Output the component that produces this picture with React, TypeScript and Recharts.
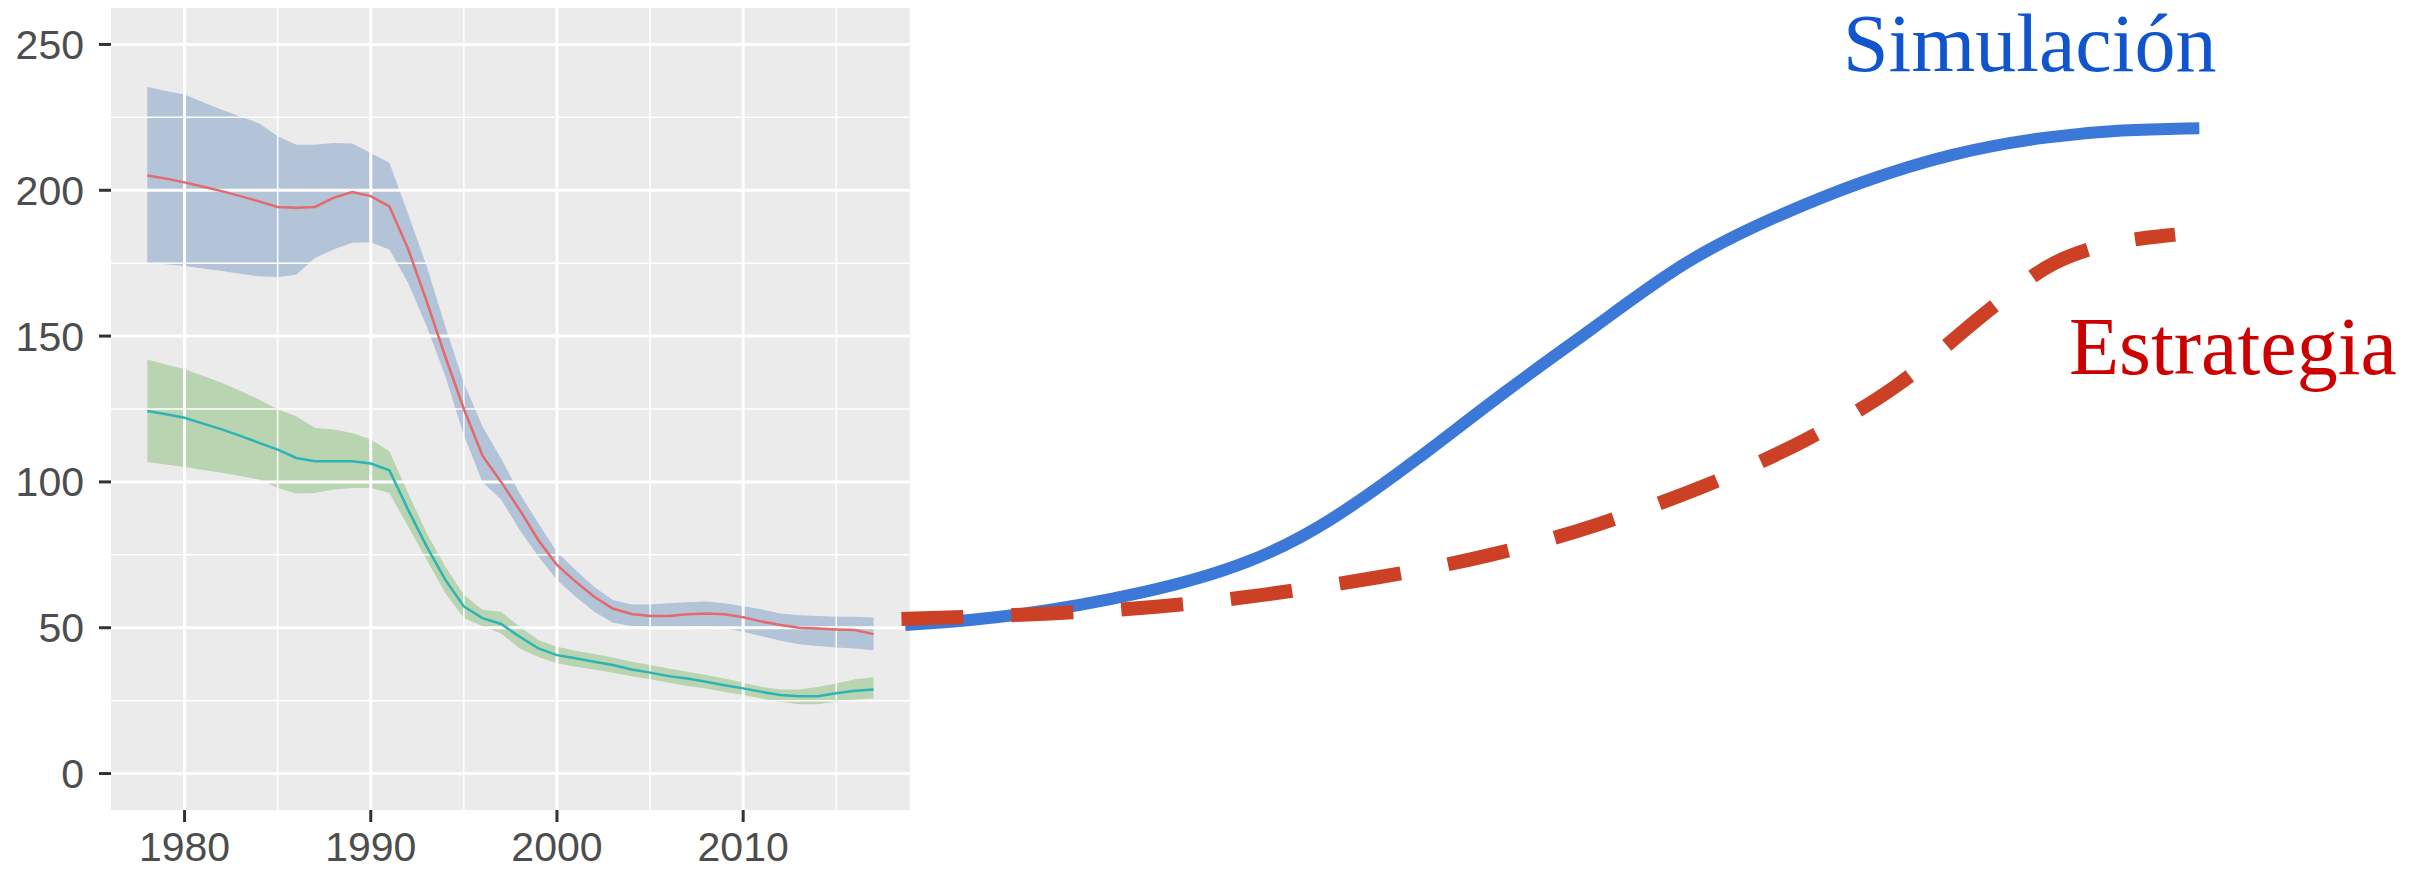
import React from "react"
import {
  ComposedChart,
  Area,
  Line,
  XAxis,
  YAxis,
  ReferenceArea,
  ReferenceLine
} from "recharts"

// observed period (ggplot panel)
const years = [
  1978, 1979, 1980, 1981, 1982, 1983, 1984, 1985, 1986, 1987,
  1988, 1989, 1990, 1991, 1992, 1993, 1994, 1995, 1996, 1997,
  1998, 1999, 2000, 2001, 2002, 2003, 2004, 2005, 2006, 2007,
  2008, 2009, 2010, 2011, 2012, 2013, 2014, 2015, 2016, 2017
]
const redMid = [
  205.1, 204, 202.7, 201.2, 199.7, 198, 196.2, 194.3, 194, 194.3,
  197.4, 199.4, 198, 194.5, 180, 162, 143, 125, 109, 100,
  90.4, 80, 71.5, 65.8, 60.6, 56.6, 54.7, 54, 54, 54.6,
  54.9, 54.6, 53.6, 52.1, 50.9, 50, 49.7, 49.4, 49.2, 47.8
]
const blueLo = [
  175.1, 174.6, 174, 173.2, 172.3, 171.4, 170.5, 170.3, 171, 176.8,
  179.7, 182, 182.2, 179.7, 168.3, 153.4, 136.3, 116, 100, 94,
  83.5, 74.4, 66.4, 60.6, 55.5, 51.7, 50.6, 50.3, 50.3, 50.3,
  50.6, 49.8, 48.6, 47.1, 45.5, 44.3, 43.7, 43.2, 42.9, 42.3
]
const blueHi = [
  235.4, 234, 232.8, 230.2, 227.6, 225.3, 223, 218.5, 215.6, 215.6,
  216.2, 216, 212.8, 209.4, 192, 174, 153.4, 134, 119, 108,
  96, 85.8, 76, 69.8, 64, 59.5, 58, 58, 58.4, 58.7,
  59, 58.4, 57.4, 56.3, 54.9, 54.3, 54, 53.8, 53.8, 53.5
]
const tealMid = [
  124.3, 123.2, 122, 120, 118, 115.8, 113.4, 111.1, 108.2, 107.1,
  107.1, 107.1, 106.3, 104, 90.5, 77.9, 66.5, 57.3, 53.3, 51.3,
  46.9, 42.9, 40.6, 39.5, 38.3, 37.2, 35.7, 34.6, 33.4, 32.6,
  31.5, 30.3, 29.2, 28, 26.9, 26.5, 26.5, 27.5, 28.4, 28.8
]
const greenLo = [
  106.8, 106, 105.1, 104.1, 103.1, 102, 100.8, 97.9, 96, 96.2,
  97.4, 97.9, 97.9, 96.2, 84.8, 73.3, 61.9, 53.3, 50.5, 48,
  42.9, 40, 37.8, 36.6, 35.7, 34.6, 33.4, 32.3, 31.1, 30,
  29.2, 28, 26.9, 25.7, 24.6, 23.8, 23.8, 24.6, 25.4, 25.7
]
const greenHi = [
  142, 140.3, 138.6, 136.3, 134, 131.2, 128.3, 124.9, 122.5, 118.5,
  118, 116.8, 114.5, 110.5, 96.2, 82.5, 71, 61.3, 56.2, 55.5,
  50.3, 45.8, 43.5, 42.1, 41, 39.8, 38.3, 37.2, 36, 34.9,
  33.8, 32.6, 31.1, 29.7, 28.8, 28.8, 29.7, 30.9, 32.3, 33
]

// projected curves, drawn on the same year axis
const simYears = [2018.7, 2024.4, 2031.8, 2037.3, 2041.5, 2046.2, 2051.0, 2055.8, 2060.6, 2065.4, 2070.0, 2075.0, 2080.0, 2084.0, 2088.2]
const simValues = [50.9, 53.5, 61.9, 72, 86, 107.6, 131.6, 153.3, 176.3, 191, 203, 213, 218.5, 220.8, 221.3]
const stratYears = [2018.5, 2020.3, 2026.2, 2032.2, 2038.1, 2044.1, 2050.1, 2055.9, 2061.6, 2067.0, 2072.2, 2075.4, 2078.2, 2080.2, 2083.4, 2086.9]
const stratValues = [53.0, 53.3, 54.7, 56.8, 61.2, 67.1, 74.3, 85.0, 98.0, 113.5, 132.8, 151.4, 165.5, 175.5, 182.4, 184.8]

const xTicks = [1980, 1990, 2000, 2010]
const yTicks = [0, 50, 100, 150, 200, 250]
const minorXGrid = [1985, 1995, 2005, 2015]
const minorYGrid = [25, 75, 125, 175, 225]

const X_MIN = 1976.05
const X_PANEL_MAX = 2018.95
const X_MAX = 2100.05
const Y_MIN = -12.5
const Y_MAX = 262.5

const history = years.map((x, i) => ({
  x,
  redMid: redMid[i],
  blueLo: blueLo[i],
  blueHi: blueHi[i],
  tealMid: tealMid[i],
  greenLo: greenLo[i],
  greenHi: greenHi[i]
}))
const simulation = simYears.map((x, i) => ({ x, v: simValues[i] }))
const strategy = stratYears.map((x, i) => ({ x, v: stratValues[i] }))

const tickFont = { fontSize: 41, fill: "#4D4D4D", fontFamily: "Liberation Sans, Arial, sans-serif" }
const labelFont = "Liberation Serif, Times New Roman, serif"

export default function App() {
  return (
    <div style={{ position: "absolute", left: 0, top: 0, width: 2425, height: 871, background: "#fff" }}>
      <ComposedChart width={2425} height={871} margin={{ top: 8, right: 5, bottom: 0, left: 0 }}>
        <XAxis
          type="number"
          dataKey="x"
          domain={[X_MIN, X_MAX]}
          ticks={xTicks}
          allowDataOverflow
          axisLine={false}
          tickLine={{ stroke: "#333", strokeWidth: 3 }}
          tickSize={12}
          tickMargin={10}
          height={61}
          tick={tickFont}
        />
        <YAxis
          type="number"
          domain={[Y_MIN, Y_MAX]}
          ticks={yTicks}
          allowDataOverflow
          axisLine={false}
          tickLine={{ stroke: "#333", strokeWidth: 3 }}
          tickSize={12}
          tickMargin={15}
          width={111}
          tick={tickFont}
        />
        <ReferenceArea x1={X_MIN} x2={X_PANEL_MAX} y1={Y_MIN} y2={Y_MAX} fill="#EBEBEB" fillOpacity={1} stroke="none" />
        {minorYGrid.map((v) => (
          <ReferenceLine key={"my" + v} segment={[{ x: X_MIN, y: v }, { x: X_PANEL_MAX, y: v }]} stroke="#fff" strokeWidth={1.5} />
        ))}
        {minorXGrid.map((v) => (
          <ReferenceLine key={"mx" + v} segment={[{ x: v, y: Y_MIN }, { x: v, y: Y_MAX }]} stroke="#fff" strokeWidth={1.5} />
        ))}
        {yTicks.map((v) => (
          <ReferenceLine key={"y" + v} segment={[{ x: X_MIN, y: v }, { x: X_PANEL_MAX, y: v }]} stroke="#fff" strokeWidth={3} />
        ))}
        {xTicks.map((v) => (
          <ReferenceLine key={"x" + v} segment={[{ x: v, y: Y_MIN }, { x: v, y: Y_MAX }]} stroke="#fff" strokeWidth={3} />
        ))}
        <Area
          data={history}
          dataKey={(d: any) => [d.blueLo, d.blueHi]}
          type="linear"
          fill="#B3C3D8"
          fillOpacity={1}
          stroke="none"
          isAnimationActive={false}
        />
        <Area
          data={history}
          dataKey={(d: any) => [d.greenLo, d.greenHi]}
          type="linear"
          fill="#B9D4B1"
          fillOpacity={1}
          stroke="none"
          isAnimationActive={false}
        />
        <Line data={history} dataKey="redMid" type="linear" stroke="#E5686A" strokeWidth={2.5} dot={false} isAnimationActive={false} />
        <Line data={history} dataKey="tealMid" type="linear" stroke="#2DB3B6" strokeWidth={2.5} dot={false} isAnimationActive={false} />
        <Line data={simulation} dataKey="v" type="basis" stroke="#3C78D8" strokeWidth={12} dot={false} isAnimationActive={false} />
        <Line
          data={strategy}
          dataKey="v"
          type="basis"
          stroke="#CC4125"
          strokeWidth={14}
          strokeDasharray="62 48"
          strokeLinecap="butt"
          dot={false}
          isAnimationActive={false}
        />
      </ComposedChart>
      <div style={{ position: "absolute", left: 1843, top: 3, fontFamily: labelFont, fontSize: 82, lineHeight: 1, color: "#1155CC", whiteSpace: "nowrap" }}>
        Simulación
      </div>
      <div style={{ position: "absolute", left: 2069, top: 306, fontFamily: labelFont, fontSize: 82, lineHeight: 1, color: "#CC0000", whiteSpace: "nowrap" }}>
        Estrategia
      </div>
    </div>
  )
}
